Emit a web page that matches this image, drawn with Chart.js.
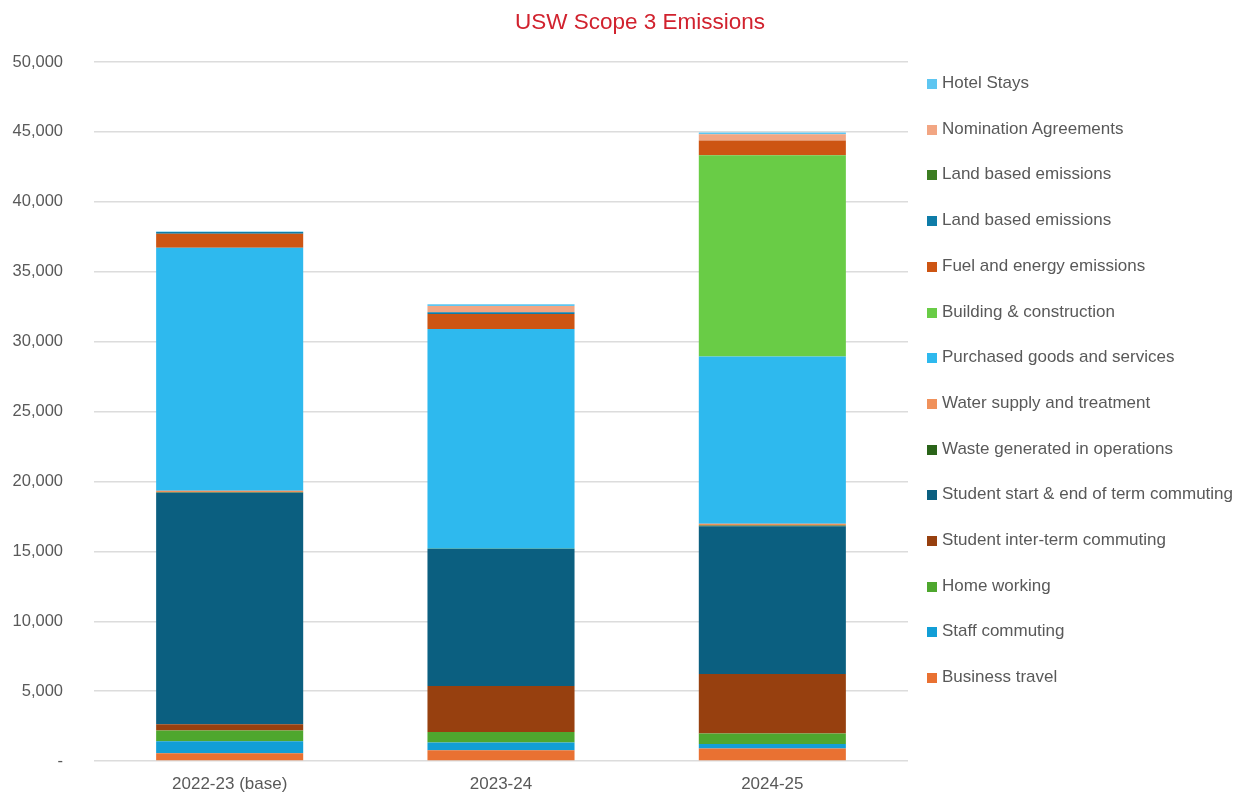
<!DOCTYPE html>
<html>
<head>
<meta charset="utf-8">
<title>USW Scope 3 Emissions</title>
<script src="https://cdn.jsdelivr.net/npm/chart.js@4.4.1/dist/chart.umd.min.js"></script>
<style>
	body { margin: 0; background: #fff; font-family: 'Liberation Sans', Arial, sans-serif; }
	#wrap { position: relative; width: 1246px; height: 794px; }
	#scopeChart { display: block; }
	#chartTitle { position: absolute; left: 440px; width: 400px; top: 8px; text-align: center;
		font-size: 22.5px; line-height: 28px; color: #D1222E; }
	#legend { position: absolute; left: 927px; top: 0; }
	.legend-item { position: absolute; left: 0; white-space: nowrap; font-size: 17px; color: #595959;
		height: 20px; line-height: 20px; }
	.legend-item .box { position: absolute; left: 0; top: 6px; width: 10px; height: 10px; }
	.legend-item .txt { position: absolute; left: 15px; top: 0; }
</style>
</head>
<body>
<div id="wrap">
	<canvas id="scopeChart" width="1246" height="794"></canvas>
	<div id="chartTitle">USW Scope 3 Emissions</div>
	<div id="legend"></div>
</div>
<script>
//chart data -start
var years = ['2022-23 (base)', '2023-24', '2024-25'];

var businessTravel = [550, 770, 890];
var staffCommuting = [860, 550, 330];
var homeWorking = [770, 760, 745];
var studentInterTerm = [450, 3290, 4265];
var studentStartEnd = [16560, 9795, 10570];
var wasteOperations = [40, 10, 50];
var waterSupply = [100, 10, 120];
var purchasedGoods = [17390, 15715, 11956];
var buildingConstruction = [0, 0, 14406];
var fuelEnergy = [1000, 1075, 1052];
var landBasedBlue = [120, 120, 0];
var landBasedGreen = [0, 0, 0];
var nominationAgreements = [0, 450, 451];
var hotelStays = [40, 120, 122];

var yTicks = [0, 5000, 10000, 15000, 20000, 25000, 30000, 35000, 40000, 45000, 50000];
//chart data -end

//series, bottom of the stack first
var series = [
	{ label: 'Business travel', data: businessTravel, color: '#E97132' },
	{ label: 'Staff commuting', data: staffCommuting, color: '#129ED6' },
	{ label: 'Home working', data: homeWorking, color: '#4EA72E' },
	{ label: 'Student inter-term commuting', data: studentInterTerm, color: '#97400F' },
	{ label: 'Student start & end of term commuting', data: studentStartEnd, color: '#0B5F80' },
	{ label: 'Waste generated in operations', data: wasteOperations, color: '#2A6419' },
	{ label: 'Water supply and treatment', data: waterSupply, color: '#F0915B' },
	{ label: 'Purchased goods and services', data: purchasedGoods, color: '#2EB9EE' },
	{ label: 'Building & construction', data: buildingConstruction, color: '#69CC46' },
	{ label: 'Fuel and energy emissions', data: fuelEnergy, color: '#CD5513' },
	{ label: 'Land based emissions', data: landBasedBlue, color: '#0E7CA8' },
	{ label: 'Land based emissions', data: landBasedGreen, color: '#3C7D22' },
	{ label: 'Nomination Agreements', data: nominationAgreements, color: '#F2A683' },
	{ label: 'Hotel Stays', data: hotelStays, color: '#5EC6F1' }
];

var datasets = [];
for (var i = 0; i < series.length; i++) {
	datasets.push({
		label: series[i].label,
		data: series[i].data,
		backgroundColor: series[i].color,
		borderWidth: 0,
		barPercentage: 0.542,
		categoryPercentage: 1
	});
}

Chart.defaults.font.family = "'Liberation Sans', Arial, sans-serif";
Chart.defaults.color = '#595959';

var ctx = document.getElementById('scopeChart').getContext('2d');
var scopeChart = new Chart(ctx, {
	type: 'bar',
	data: {
		labels: years,
		datasets: datasets
	},
	options: {
		responsive: false,
		animation: false,
		layout: {
			padding: { left: 12, right: 338, top: 62, bottom: 0 }
		},
		plugins: {
			legend: { display: false },
			title: { display: false },
			tooltip: { enabled: false }
		},
		scales: {
			x: {
				stacked: true,
				grid: { display: false, drawTicks: false },
				border: { display: false },
				ticks: { padding: 13, color: '#595959', font: { size: 17 }, maxRotation: 0 },
				afterFit: function(axis) {
					axis.height = 33;
				}
			},
			y: {
				stacked: true,
				min: 0,
				max: 50000,
				afterBuildTicks: function(axis) {
					axis.ticks = yTicks.map(function(v) { return { value: v }; });
				},
				afterFit: function(axis) {
					//keep the label gap from eating the bottom of the plot
					axis.width = 82;
					axis.paddingTop = 10;
					axis.paddingBottom = 10;
				},
				grid: { color: '#dcdcdc', lineWidth: 1.4, drawTicks: false },
				border: { display: false },
				ticks: {
					padding: 31,
					color: '#595959',
					font: { size: 16.5 },
					callback: function(value) {
						return value === 0 ? '-' : value.toLocaleString('en-US');
					}
				}
			}
		}
	}
});

//legend -start (top of the stack first)
var legendBox = document.getElementById('legend');
for (var j = series.length - 1; j >= 0; j--) {
	var row = series.length - 1 - j;
	var item = document.createElement('div');
	item.className = 'legend-item';
	item.style.top = (83 + row * 45.7 - 10) + 'px';
	item.innerHTML = '<span class="box" style="background:' + series[j].color + '"></span>' +
		'<span class="txt"></span>';
	item.querySelector('.txt').textContent = series[j].label;
	legendBox.appendChild(item);
}
//legend -end
</script>
</body>
</html>
